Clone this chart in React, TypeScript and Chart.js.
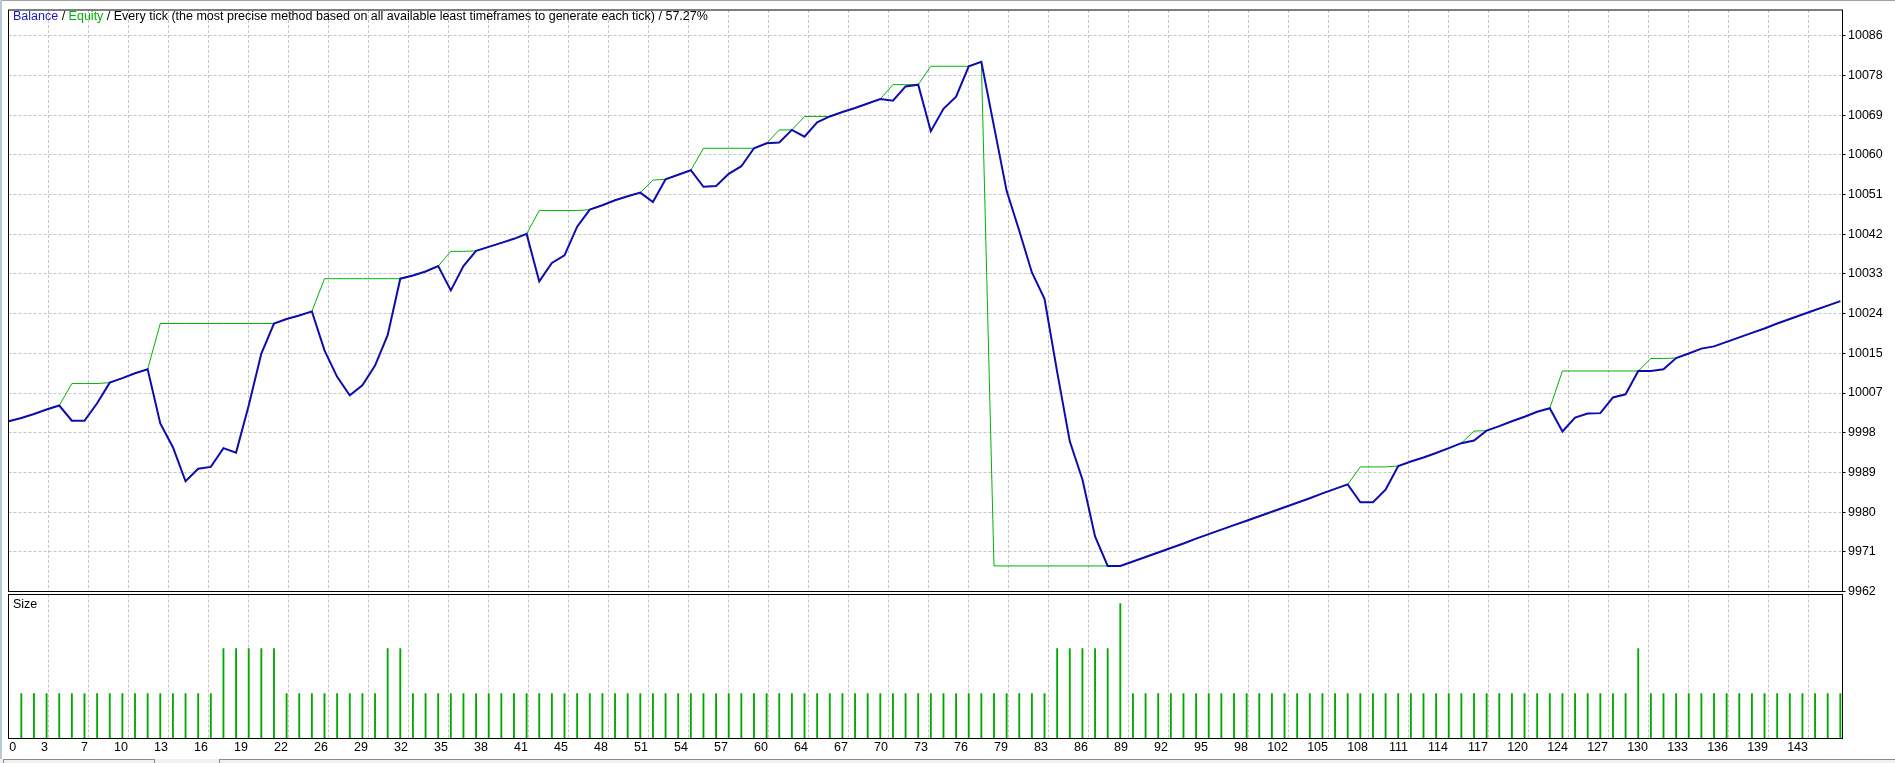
import React, { useEffect, useRef } from "react";
import { Chart, registerables } from "chart.js";

Chart.register(...registerables);

// ---------- data ----------
// balance after each closed trade (index 0 = initial deposit)
const BALANCE: number[] = [
  10000.0, 10000.7, 10001.6, 10002.6, 10003.5, 10000.1, 10000.1, 10004.0, 10008.6, 10009.6,
  10010.7, 10011.6, 9999.5, 9994.2, 9986.6, 9989.4, 9989.8, 9994.0, 9993.0, 10003.5,
  10015.1, 10021.8, 10022.8, 10023.6, 10024.5, 10015.8, 10009.9, 10005.8, 10008.0, 10012.4,
  10019.2, 10031.8, 10032.5, 10033.4, 10034.6, 10029.2, 10034.6, 10038.0, 10038.9, 10039.8,
  10040.7, 10041.8, 10031.2, 10035.3, 10037.0, 10043.4, 10047.2, 10048.2, 10049.3, 10050.2,
  10051.0, 10048.9, 10054.0, 10055.0, 10056.0, 10052.3, 10052.5, 10055.2, 10056.9, 10060.9,
  10062.0, 10062.2, 10065.0, 10063.5, 10066.7, 10068.0, 10069.0, 10069.9, 10070.9, 10071.9,
  10071.5, 10074.7, 10075.1, 10064.7, 10069.7, 10072.4, 10079.2, 10080.2, 10065.8, 10051.4,
  10042.5, 10033.2, 10027.3, 10011.0, 9995.5, 9987.0, 9974.3, 9967.7, 9967.7, 9968.7,
  9969.7, 9970.7, 9971.7, 9972.7, 9973.8, 9974.8, 9975.8, 9976.8, 9977.8, 9978.8,
  9979.8, 9980.8, 9981.8, 9982.8, 9983.9, 9984.9, 9985.9, 9981.9, 9981.9, 9984.7,
  9990.0, 9991.0, 9991.9, 9992.9, 9994.0, 9995.1, 9995.7, 9997.9, 9998.9, 10000.0,
  10001.0, 10002.1, 10002.9, 9997.7, 10000.8, 10001.7, 10001.8, 10005.3, 10006.0, 10011.2,
  10011.2, 10011.6, 10014.1, 10015.1, 10016.2, 10016.7, 10017.7, 10018.7, 10019.7, 10020.7,
  10021.8, 10022.8, 10023.8, 10024.8, 10025.8, 10026.8,
];

// equity at each trade
const EQUITY: number[] = [
  10000.0, 10000.7, 10001.6, 10002.6, 10003.5, 10008.4, 10008.4, 10008.4, 10008.6, 10009.6,
  10010.7, 10011.6, 10021.8, 10021.8, 10021.8, 10021.8, 10021.8, 10021.8, 10021.8, 10021.8,
  10021.8, 10021.8, 10022.8, 10023.6, 10024.5, 10031.8, 10031.8, 10031.8, 10031.8, 10031.8,
  10031.8, 10031.8, 10032.5, 10033.4, 10034.6, 10037.9, 10037.9, 10038.0, 10038.9, 10039.8,
  10040.7, 10041.8, 10047.0, 10047.0, 10047.0, 10047.0, 10047.2, 10048.2, 10049.3, 10050.2,
  10051.0, 10053.8, 10054.0, 10055.0, 10056.0, 10060.9, 10060.9, 10060.9, 10060.9, 10060.9,
  10062.0, 10065.0, 10065.0, 10068.0, 10068.0, 10068.0, 10069.0, 10069.9, 10070.9, 10071.9,
  10075.1, 10075.1, 10075.1, 10079.2, 10079.2, 10079.2, 10079.2, 10080.2, 9967.7, 9967.7,
  9967.7, 9967.7, 9967.7, 9967.7, 9967.7, 9967.7, 9967.7, 9967.7, 9967.7, 9968.7,
  9969.7, 9970.7, 9971.7, 9972.7, 9973.8, 9974.8, 9975.8, 9976.8, 9977.8, 9978.8,
  9979.8, 9980.8, 9981.8, 9982.8, 9983.9, 9984.9, 9985.9, 9989.8, 9989.8, 9989.8,
  9990.0, 9991.0, 9991.9, 9992.9, 9994.0, 9995.1, 9997.8, 9997.9, 9998.9, 10000.0,
  10001.0, 10002.1, 10002.9, 10011.2, 10011.2, 10011.2, 10011.2, 10011.2, 10011.2, 10011.2,
  10014.0, 10014.0, 10014.1, 10015.1, 10016.2, 10016.7, 10017.7, 10018.7, 10019.7, 10020.7,
  10021.8, 10022.8, 10023.8, 10024.8, 10025.8, 10026.8,
];

// lot size of trades 1..145
const SIZE: number[] = [
  0.1, 0.1, 0.1, 0.1, 0.1, 0.1, 0.1, 0.1, 0.1, 0.1,
  0.1, 0.1, 0.1, 0.1, 0.1, 0.1, 0.2, 0.2, 0.2, 0.2,
  0.2, 0.1, 0.1, 0.1, 0.1, 0.1, 0.1, 0.1, 0.1, 0.2,
  0.2, 0.1, 0.1, 0.1, 0.1, 0.1, 0.1, 0.1, 0.1, 0.1,
  0.1, 0.1, 0.1, 0.1, 0.1, 0.1, 0.1, 0.1, 0.1, 0.1,
  0.1, 0.1, 0.1, 0.1, 0.1, 0.1, 0.1, 0.1, 0.1, 0.1,
  0.1, 0.1, 0.1, 0.1, 0.1, 0.1, 0.1, 0.1, 0.1, 0.1,
  0.1, 0.1, 0.1, 0.1, 0.1, 0.1, 0.1, 0.1, 0.1, 0.1,
  0.1, 0.1, 0.2, 0.2, 0.2, 0.2, 0.2, 0.3, 0.1, 0.1,
  0.1, 0.1, 0.1, 0.1, 0.1, 0.1, 0.1, 0.1, 0.1, 0.1,
  0.1, 0.1, 0.1, 0.1, 0.1, 0.1, 0.1, 0.1, 0.1, 0.1,
  0.1, 0.1, 0.1, 0.1, 0.1, 0.1, 0.1, 0.1, 0.1, 0.1,
  0.1, 0.1, 0.1, 0.1, 0.1, 0.1, 0.1, 0.1, 0.2, 0.1,
  0.1, 0.1, 0.1, 0.1, 0.1, 0.1, 0.1, 0.1, 0.1, 0.1,
  0.1, 0.1, 0.1, 0.1, 0.1,
];

const X_TICK_LABELS: string[] = [
  "0", "3", "7", "10", "13", "16", "19", "22", "26", "29", "32", "35", "38", "41", "45",
  "48", "51", "54", "57", "60", "64", "67", "70", "73", "76", "79", "83", "86", "89", "92",
  "95", "98", "102", "105", "108", "111", "114", "117", "120", "124", "127", "130", "133",
  "136", "139", "143",
];

const Y_TICK_LABELS: string[] = [
  "9962", "9971", "9980", "9989", "9998", "10007", "10015", "10024", "10033", "10042",
  "10051", "10060", "10069", "10078", "10086",
];

const TITLE_PARTS = [
  { text: "Balance", color: "#1a1ac0" },
  { text: " / ", color: "#000000" },
  { text: "Equity", color: "#00b400" },
  {
    text: " / Every tick (the most precise method based on all available least timeframes to generate each tick) / 57.27%",
    color: "#000000",
  },
];

// ---------- layout / styles ----------
const W = 1895;
const H = 763;
const FONT_FAMILY = "'Liberation Sans', Arial, sans-serif";
const FONT_SIZE = 12.5;
const GRID_COLOR = "#c6c6c6";
const GRID_DASH = [3, 2];
const BALANCE_COLOR = "#0c0cb0";
const EQUITY_COLOR = "#00b400";
const SIZE_COLOR = "#00aa00";

const PLOT_LEFT = 8.5;
const PLOT_RIGHT = 1842.5;
const MAIN_TOP = 5.5;
const MAIN_BOTTOM = 591.5;
const SUB_TOP = 594.5;
const SUB_BOTTOM = 738.5;

const PX_PER_TRADE = 12.632;
const X0_PX = 8.7;
const X_MIN = (PLOT_LEFT - X0_PX) / PX_PER_TRADE;
const X_MAX = (PLOT_RIGHT - X0_PX) / PX_PER_TRADE;
const X_GRID_STEP = 40 / PX_PER_TRADE;
const X_TICK_VALUES = X_TICK_LABELS.map((_, k) =>
  k === 0 ? 8.1 / PX_PER_TRADE : X_MIN + k * X_GRID_STEP
);

const Y_MIN = 9962;
const Y_STEP = 124 / 14;
const Y_MAX = Y_MIN + ((MAIN_BOTTOM - MAIN_TOP) / 40) * Y_STEP;
const SIZE_MAX = 0.32;

const framePlugin = {
  id: "frame",
  afterDraw(chart: any) {
    const { ctx, chartArea: a } = chart;
    ctx.save();
    ctx.setLineDash([]);
    ctx.strokeStyle = "#000";
    ctx.lineWidth = 1;
    ctx.strokeRect(a.left, a.top, a.right - a.left, a.bottom - a.top);
    ctx.restore();
  },
};

const gridColor = (c: any) => (c.index === 0 ? "rgba(0,0,0,0)" : GRID_COLOR);

export default function App() {
  const mainRef = useRef<HTMLCanvasElement>(null);
  const subRef = useRef<HTMLCanvasElement>(null);

  useEffect(() => {
    const font = { family: FONT_FAMILY, size: FONT_SIZE };

    const main = new Chart(mainRef.current as HTMLCanvasElement, {
      type: "line",
      data: {
        datasets: [
          {
            label: "Balance",
            data: BALANCE.map((v, i) => ({ x: i, y: v })),
            borderColor: BALANCE_COLOR,
            borderWidth: 2,
            pointRadius: 0,
            tension: 0,
            fill: false,
          },
          {
            label: "Equity",
            data: EQUITY.map((v, i) => ({ x: i, y: v })),
            borderColor: EQUITY_COLOR,
            borderWidth: 1,
            pointRadius: 0,
            tension: 0,
            fill: false,
          },
        ],
      },
      options: {
        responsive: false,
        animation: false,
        devicePixelRatio: 1,
        events: [],
        layout: { padding: { left: PLOT_LEFT, top: MAIN_TOP, right: 0, bottom: 0 } },
        plugins: { legend: { display: false }, tooltip: { enabled: false } },
        scales: {
          x: {
            type: "linear",
            position: "bottom",
            min: X_MIN,
            max: X_MAX,
            offset: false,
            afterBuildTicks: (s: any) => {
              s.ticks = X_TICK_VALUES.map((v) => ({ value: v }));
            },
            afterFit: (s: any) => {
              s.height = H - MAIN_BOTTOM;
            },
            ticks: { display: false },
            grid: { color: gridColor, drawTicks: false, lineWidth: 1 },
            border: { display: false, dash: GRID_DASH },
          },
          y: {
            type: "linear",
            position: "right",
            min: Y_MIN,
            max: Y_MAX,
            afterBuildTicks: (s: any) => {
              s.ticks = Y_TICK_LABELS.map((_, k) => ({ value: Y_MIN + k * Y_STEP }));
            },
            afterFit: (s: any) => {
              s.width = W - PLOT_RIGHT;
            },
            ticks: {
              callback: (_v: any, i: number) => Y_TICK_LABELS[i],
              font,
              color: "#000",
              padding: 2.5,
              autoSkip: false,
            },
            grid: {
              color: gridColor,
              lineWidth: 1,
              tickColor: "#000",
              tickLength: 3,
              tickBorderDash: [],
              drawTicks: true,
            },
            border: { display: false, dash: GRID_DASH },
          },
        },
      },
      plugins: [framePlugin],
    } as any);

    const sub = new Chart(subRef.current as HTMLCanvasElement, {
      type: "bar",
      data: {
        datasets: [
          {
            label: "Size",
            data: SIZE.map((v, i) => ({ x: i + 1, y: v })),
            backgroundColor: SIZE_COLOR,
            borderWidth: 0,
            barThickness: 1.2,
          },
        ],
      },
      options: {
        responsive: false,
        animation: false,
        devicePixelRatio: 1,
        events: [],
        layout: {
          padding: { left: PLOT_LEFT, top: SUB_TOP, right: W - PLOT_RIGHT, bottom: 0 },
        },
        plugins: { legend: { display: false }, tooltip: { enabled: false } },
        scales: {
          x: {
            type: "linear",
            position: "bottom",
            min: X_MIN,
            max: X_MAX,
            offset: false,
            afterBuildTicks: (s: any) => {
              s.ticks = X_TICK_VALUES.map((v) => ({ value: v }));
            },
            afterFit: (s: any) => {
              s.height = H - SUB_BOTTOM;
            },
            ticks: {
              callback: (_v: any, i: number) => X_TICK_LABELS[i],
              font,
              color: "#000",
              align: "end",
              labelOffset: -0.5,
              padding: 2,
              autoSkip: false,
              maxRotation: 0,
              minRotation: 0,
            },
            grid: { color: gridColor, drawTicks: false, lineWidth: 1, offset: false },
            border: { display: false, dash: GRID_DASH },
          },
          y: { display: false, min: 0, max: SIZE_MAX },
        },
      },
      plugins: [framePlugin],
    } as any);

    return () => {
      main.destroy();
      sub.destroy();
    };
  }, []);

  const abs: React.CSSProperties = { position: "absolute", left: 0, top: 0 };

  return (
    <div
      style={{
        position: "fixed",
        left: 0,
        top: 0,
        width: W,
        height: H,
        background: "#ffffff",
        overflow: "hidden",
        fontFamily: FONT_FAMILY,
      }}
    >
      <canvas ref={mainRef} width={W} height={H} style={{ ...abs, width: W, height: H }} />
      <canvas ref={subRef} width={W} height={H} style={{ ...abs, width: W, height: H }} />

      {/* window chrome */}
      <div style={{ ...abs, width: W, height: 1, background: "#a0a0a0" }} />
      <div style={{ ...abs, width: 2, height: H, background: "#b8c6da" }} />
      <div style={{ ...abs, top: 759, width: W, height: 4, background: "#f0f0f0" }} />
      <div
        style={{
          ...abs,
          left: 3,
          top: 759,
          width: 152,
          height: 6,
          borderTop: "1px solid #8c8c8c",
          borderLeft: "1px solid #8c8c8c",
          borderRight: "1px solid #8c8c8c",
          boxSizing: "border-box",
        }}
      />
      <div
        style={{
          ...abs,
          left: 219,
          top: 759,
          width: W - 219,
          height: 6,
          borderTop: "1px solid #8c8c8c",
          borderLeft: "1px solid #8c8c8c",
          boxSizing: "border-box",
        }}
      />

      {/* title */}
      <div
        style={{
          ...abs,
          left: 13,
          top: 9,
          fontSize: FONT_SIZE,
          lineHeight: "14px",
          whiteSpace: "nowrap",
        }}
      >
        {TITLE_PARTS.map((p, i) => (
          <span key={i} style={{ color: p.color }}>
            {p.text}
          </span>
        ))}
      </div>

      {/* sub-window label */}
      <div
        style={{
          ...abs,
          left: 13,
          top: 597,
          fontSize: FONT_SIZE,
          lineHeight: "14px",
          whiteSpace: "nowrap",
          color: "#000",
        }}
      >
        Size
      </div>
    </div>
  );
}
